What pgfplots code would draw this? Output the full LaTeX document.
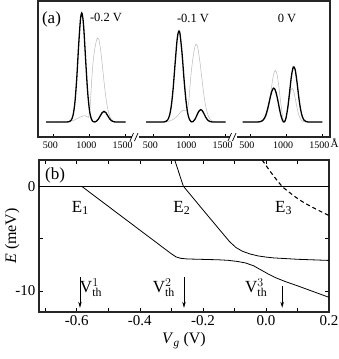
\documentclass[border=0pt]{standalone}
\usepackage{fontspec}
\setmainfont{Liberation Serif}
\usepackage{pgfplots}
\usepackage{pgfplotstable}
\pgfplotsset{compat=1.18}
\usetikzlibrary{arrows.meta}

% panel (a): |psi|^2 profiles, x in Angstrom, one table per curve
\pgfplotstableread{
l I
400 0
600 0
700 0.1
725 0.5
750 2.1
775 7.5
800 20.7
825 44.8
850 76.4
875 102.4
893 109
910 103.1
925 89.5
950 58.4
975 29.9
1000 11.7
1025 3.3
1050 0.4
1075 0.05
1100 1.0
1125 3.1
1150 6.3
1175 9.3
1200 10.6
1225 9.5
1250 6.6
1275 3.6
1300 1.5
1325 0.5
1350 0.1
1400 0
1500 0
}\blackA
\pgfplotstableread{
l I
400 0
600 0
675 0.1
725 0.5
775 1.5
825 3.2
875 5.0
910 6.0
938 6.3
965 5.4
985 4.6
1000 9
1015 22
1031 42
1050 60
1075 74
1100 82.5
1114 84
1130 82.5
1150 74.1
1175 58.7
1200 41.2
1225 25.6
1250 14.1
1275 6.9
1300 3.0
1325 1.2
1350 0.4
1375 0.1
1400 0
1500 0
}\grayA
\pgfplotstableread{
l I
400 0
600 0
650 0.1
675 0.6
700 2.3
725 6.8
750 16.7
775 34.0
800 57.1
825 79.2
840 87.9
855 91
868 88.7
885 78
900 66.6
925 42.8
950 22.7
975 9.1
1000 2.5
1025 0.16
1050 0.4
1075 2.6
1100 6.2
1125 10.2
1156 12.4
1175 11.5
1200 8.4
1225 4.8
1250 2.1
1275 0.7
1300 0.2
1350 0
1500 0
}\blackB
\pgfplotstableread{
l I
400 0
600 0
675 0.2
725 0.9
775 2.6
825 5.5
860 8.3
885 10.4
907 11.7
930 11.4
950 11.0
970 13.3
990 20
1008 36
1025 50
1050 65
1075 75
1091 77.7
1110 76
1125 70.1
1150 57.0
1175 41.5
1200 27.0
1225 15.7
1250 8.2
1275 3.8
1300 1.6
1325 0.6
1350 0.2
1400 0
1500 0
}\grayB
\pgfplotstableread{
l I
400 0
575 0
600 0.04
625 0.14
650 0.5
675 1.5
700 3.8
725 8.1
750 14.8
775 22.9
800 30.2
825 33.9
850 31.9
875 25.2
900 16.1
925 7.4
950 1.6
962 0.22
970 0
980 0.5
990 1.97
1000 4.5
1025 15.4
1050 31.1
1075 46.7
1100 55.0
1125 52.4
1150 40.1
1175 24.9
1200 12.6
1225 5.2
1250 1.7
1275 0.5
1300 0.1
1350 0
1500 0
}\blackC
\pgfplotstableread{
l I
400 0
600 0
625 0.05
650 0.2
675 0.8
700 2.3
725 5.9
750 12.6
775 23.1
800 35.8
825 47.1
850 51.5
875 47.3
900 35.0
925 19.2
950 6.0
965 1.2
977 0
990 1.3
1000 3.9
1025 14.7
1050 26.7
1075 33.3
1100 31.8
1125 23.9
1150 14.6
1175 7.1
1200 2.8
1225 0.9
1250 0.2
1300 0
1500 0
}\grayC

\begin{document}
\begin{tikzpicture}
\useasboundingbox (0pt,0pt) rectangle (339pt,-359pt);

% ---------------- panel (a)
\begin{axis}[
  at={(38pt,-137pt)}, anchor=south west,
  scale only axis, width=292pt, height=136pt,
  xmin=288, xmax=4327, ymin=-15, ymax=121,
  clip=false,
  ytick=\empty,
  xtick={500,1000,1500,1883,2383,2883,3220,3720,4220},
  xticklabels={500,1000,1500,500,1000,1500,500,1000,1500},
  xtick pos=left, tick align=inside,
  major tick length=3pt,
  tick style={line width=0.7pt, black},
  xticklabel style={font=\fontsize{10}{11}\selectfont, xshift=-3pt, yshift=-1.5pt},
  axis line style={line width=1.1pt, black!85},
]
  \addplot[gray!55, line width=0.5pt, smooth] table[x=l, y=I] \grayA;
  \addplot[black, line width=1.3pt, smooth] table[x=l, y=I] \blackA;
  \addplot[gray!55, line width=0.5pt, smooth] table[x expr=\thisrow{l}+1383, y=I] \grayB;
  \addplot[black, line width=1.3pt, smooth] table[x expr=\thisrow{l}+1383, y=I] \blackB;
  \addplot[gray!55, line width=0.5pt, smooth] table[x expr=\thisrow{l}+2720, y=I] \grayC;
  \addplot[black, line width=1.3pt, smooth] table[x expr=\thisrow{l}+2720, y=I] \blackC;
\end{axis}

% axis breaks
\fill[white] (131.5pt,-139.5pt) rectangle (138.5pt,-134.5pt);
\draw[line width=0.7pt] (130pt,-141pt) -- (133.5pt,-133pt) (134.5pt,-141pt) -- (138pt,-133pt);
\fill[white] (229.5pt,-139.5pt) rectangle (236.5pt,-134.5pt);
\draw[line width=0.7pt] (228pt,-141pt) -- (231.5pt,-133pt) (232.5pt,-141pt) -- (236pt,-133pt);

\node[font=\fontsize{17}{19}\selectfont] at (51.5pt,-19pt) {(a)};
\node[font=\fontsize{12.5}{14}\selectfont] at (106pt,-17.5pt) {-0.2 V};
\node[font=\fontsize{12.5}{14}\selectfont] at (193pt,-18pt) {-0.1 V};
\node[font=\fontsize{12.5}{14}\selectfont] at (287pt,-18pt) {0 V};
\node[font=\fontsize{11}{12}\selectfont] at (334.5pt,-143pt) {\AA};

% ---------------- panel (b)
\begin{axis}[
  at={(39pt,-312pt)}, anchor=south west,
  scale only axis, width=290pt, height=152pt,
  xmin=-0.72, xmax=0.2, ymin=-12, ymax=2.5,
  xtick={-0.6,-0.4,-0.2,0,0.2},
  xticklabels={-0.6,-0.4,-0.2,0.0,0.2},
  minor xtick={-0.7,-0.5,-0.3,-0.1,0.1},
  ytick={-10,-5,0}, yticklabels={-10,,0},
  tick align=inside, tick pos=both,
  major tick length=4pt, minor tick length=4pt,
  tick style={line width=0.7pt, black},
  ticklabel style={font=\fontsize{15}{16}\selectfont},
  xlabel={\textit{V}\textsubscript{\textit{g}} (V)},
  ylabel={\textit{E} (meV)},
  label style={font=\fontsize{16}{18}\selectfont},
  ylabel style={at={(axis description cs:-0.092,0.5)}, anchor=center},
  axis line style={line width=1.1pt, black!85},
]
  \addplot[black, line width=0.8pt] coordinates {(-0.72,0) (0.2,0)};
  % E1
  \addplot[black, line width=0.8pt] coordinates {
    (-0.585,0) (-0.30,-6.45) (-0.285,-6.75) (-0.27,-6.88) (-0.25,-6.94)
    (-0.2,-6.98) (-0.15,-7.02) (-0.12,-7.07) (-0.09,-7.18) (-0.065,-7.32)
    (-0.04,-7.58) (-0.015,-8.0) (0.01,-8.42) (0.03,-8.72) (0.06,-9.08)
    (0.1,-9.5) (0.15,-10.05) (0.2,-10.6)
  };
  % E2
  \addplot[black, line width=0.8pt] coordinates {
    (-0.2895,2.5) (-0.262,0) (-0.2,-2.25) (-0.15,-4.05) (-0.115,-5.3)
    (-0.095,-5.85) (-0.075,-6.2) (-0.05,-6.47) (-0.025,-6.65) (0,-6.76)
    (0.025,-6.84) (0.1,-6.97) (0.2,-7.08)
  };
  % E3
  \addplot[black, line width=1.1pt, dash pattern=on 4pt off 3pt, smooth] coordinates {
    (-0.012,2.5) (0.02,1.15) (0.051,0) (0.08,-0.72) (0.11,-1.37) (0.15,-2.05) (0.2,-2.8)
  };

  \node[font=\fontsize{17}{19}\selectfont] at (axis cs:-0.589,-2.07) {E\textsubscript{1}};
  \node[font=\fontsize{17}{19}\selectfont] at (axis cs:-0.267,-2.07) {E\textsubscript{2}};
  \node[font=\fontsize{17}{19}\selectfont] at (axis cs:0.056,-2.07) {E\textsubscript{3}};

  \node[font=\fontsize{17}{19}\selectfont] at (axis cs:-0.555,-9.68) {$\mathrm{V}^{1}_{\mathrm{th}}$};
  \node[font=\fontsize{17}{19}\selectfont] at (axis cs:-0.324,-9.68) {$\mathrm{V}^{2}_{\mathrm{th}}$};
  \node[font=\fontsize{17}{19}\selectfont] at (axis cs:-0.031,-9.68) {$\mathrm{V}^{3}_{\mathrm{th}}$};

  \draw[-{Stealth[length=6pt,width=3.5pt]}, line width=0.8pt] (axis cs:-0.59,-8.7) -- (axis cs:-0.59,-11.6);
  \draw[-{Stealth[length=6pt,width=3.5pt]}, line width=0.8pt] (axis cs:-0.26,-8.7) -- (axis cs:-0.26,-11.6);
  \draw[-{Stealth[length=6pt,width=3.5pt]}, line width=0.8pt] (axis cs:0.0515,-9.5) -- (axis cs:0.0515,-11.6);
\end{axis}

\node[font=\fontsize{17}{19}\selectfont] at (55pt,-175.5pt) {(b)};
\end{tikzpicture}
\end{document}
